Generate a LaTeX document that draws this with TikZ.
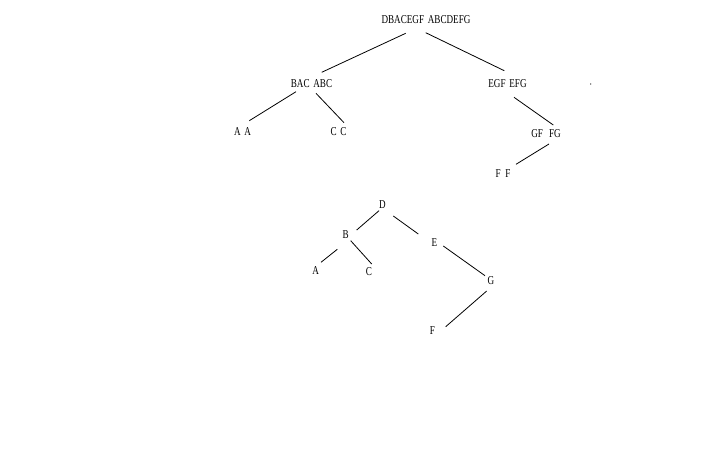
\documentclass[tikz,border=0pt]{standalone}
\usepackage{fontspec}
\setmainfont{Liberation Serif}
\newcommand{\sq}[1]{\scalebox{0.76}[1]{#1}}
\begin{document}
\begin{tikzpicture}[x=1pt,y=-1pt,
  lbl/.style={inner sep=0pt,font=\fontsize{12}{12}\selectfont},
  edge/.style={line width=0.8pt,black}]
\path[fill=white] (0,0) rectangle (720,450);
% top tree
\node[lbl] (root) at (426,20) {\sq{DBACEGF\hspace{5pt}ABCDEFG}};
\node[lbl] (bac) at (311.5,84) {\sq{BAC\hspace{5pt}ABC}};
\node[lbl] (egf) at (507.5,84) {\sq{EGF\hspace{5pt}EFG}};
\node[lbl] (aa) at (242.5,132) {\sq{A\hspace{5pt}A}};
\node[lbl] (cc) at (338.5,132) {\sq{C\hspace{5pt}C}};
\node[lbl] (gf) at (546,134) {\sq{GF\hspace{8pt}FG}};
\node[lbl] (ff) at (503,174) {\sq{F\hspace{6pt}F}};
\fill (590.7,84) circle (0.6);
\draw[edge] ([shift={(-20.3,13.3)}]root.center) -- ([shift={(10.2,-11.7)}]bac.center);
\draw[edge] ([shift={(-0.3,12.7)}]root.center) -- ([shift={(-3.2,-13.3)}]egf.center);
\draw[edge] ([shift={(-15.5,7.7)}]bac.center) -- ([shift={(6.8,-11.3)}]aa.center);
\draw[edge] ([shift={(4.5,9.3)}]bac.center) -- ([shift={(5.5,-9.3)}]cc.center);
\draw[edge] ([shift={(6.5,13.3)}]egf.center) -- ([shift={(7.3,-9)}]gf.center);
\draw[edge] ([shift={(3,10)}]gf.center) -- ([shift={(13,-9.7)}]ff.center);
% bottom tree
\node[lbl] (d) at (382.3,205) {\sq{D}};
\node[lbl] (b) at (345.7,234.3) {\sq{B}};
\node[lbl] (e) at (434.3,242.3) {\sq{E}};
\node[lbl] (a) at (315.7,271) {\sq{A}};
\node[lbl] (c) at (369,271.7) {\sq{C}};
\node[lbl] (g) at (491,280.7) {\sq{G}};
\node[lbl] (f) at (432.3,330.7) {\sq{F}};
\draw[edge] ([shift={(-3.3,5.7)}]d.center) -- ([shift={(11,-4.3)}]b.center);
\draw[edge] ([shift={(11,11)}]d.center) -- ([shift={(-16,-8.3)}]e.center);
\draw[edge] ([shift={(-8.4,15)}]b.center) -- ([shift={(5.3,-8.7)}]a.center);
\draw[edge] ([shift={(5,6.4)}]b.center) -- ([shift={(2.7,-7.7)}]c.center);
\draw[edge] ([shift={(9,3.7)}]e.center) -- ([shift={(-6,-5)}]g.center);
\draw[edge] ([shift={(-4.3,10.3)}]g.center) -- ([shift={(13.4,-4)}]f.center);
\end{tikzpicture}
\end{document}
